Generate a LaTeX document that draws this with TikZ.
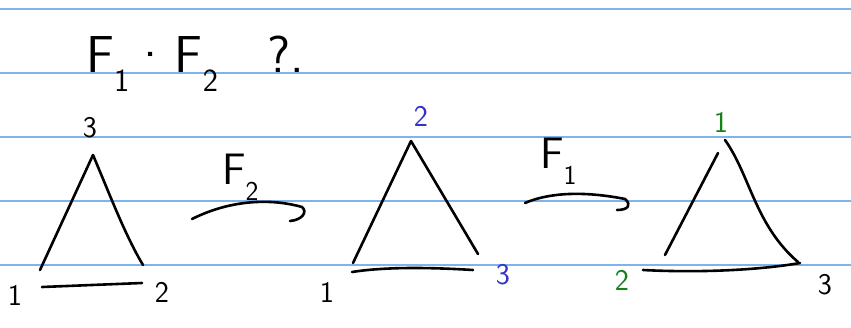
\documentclass[tikz,border=0pt]{standalone}
\usepackage{xcolor}
\usetikzlibrary{math}
\definecolor{rule}{RGB}{125,180,240}
\definecolor{vblue}{RGB}{50,50,205}
\definecolor{vgreen}{RGB}{20,130,20}

\newcommand{\lowidx}[1]{\raisebox{-0.38em}{\fontsize{0.62em}{0.7em}\selectfont #1}}

\tikzset{
ink/.style={line width=2.6pt, line cap=round, line join=round},
lbl/.style={font=\sffamily\fontsize{30}{34}\selectfont, inner sep=0pt},
fname/.style={font=\sffamily\fontsize{44}{48}\selectfont, inner sep=0pt},
}

\begin{document}
\begin{tikzpicture}[x=1pt,y=-1pt]

\tikzmath{
\W = 851;
\H = 327;
\dy = 64;%rule spacing
}
\useasboundingbox (0,0) rectangle (\W,\H);
\fill[white] (0,0) rectangle (\W,\H);

\foreach \i in {0,...,4}{
\draw[rule, line width=1.6pt] (0,9+\i*\dy) -- (\W,9+\i*\dy);
}

% title
\node[font=\sffamily\fontsize{52}{56}\selectfont, inner sep=0pt, anchor=base west] (title) at (86,72)
  {F\lowidx{1}\hspace{0.05em}·\hspace{0.1em}F\lowidx{2}\hspace{0.95em}?.};

% first triangle
\coordinate (a1) at (40,270);
\coordinate (a2) at (143,265);
\coordinate (a3) at (93,155);
\draw[ink] (a1) -- (a3) .. controls (110,195) and (125,235) .. (a2);
\draw[ink] (42,287) -- (142,283);
\node[lbl] (l13) at (90,128) {3};
\node[lbl] (l11) at (15,295) {1};
\node[lbl] (l12) at (162,292) {2};

% F2 arrow
\coordinate (s2) at (192,219);
\coordinate (e2) at (302,207);
\draw[ink] (s2) .. controls (230,200) and (270,198) .. (e2)
  .. controls (308,212) and (302,220) .. (290,221);
\node[fname, anchor=base west] (f2) at (222,184) {F\lowidx{2}};

% second triangle
\coordinate (b1) at (353,263);
\coordinate (b3) at (478,254);
\coordinate (b2) at (411,141);
\draw[ink] (b1) -- (b2) -- (b3);
\draw[ink] (352,272) .. controls (390,266) and (440,268) .. (473,270);
\node[lbl, vblue] (l22) at (421,116) {2};
\node[lbl] (l21) at (327,292) {1};
\node[lbl, vblue] (l23) at (503,275) {3};

% F1 arrow
\coordinate (s1) at (525,203);
\coordinate (e1) at (625,199);
\draw[ink] (s1) .. controls (555,190) and (595,193) .. (e1)
  .. controls (632,205) and (628,210) .. (617,210);
\node[fname, anchor=base west] (f1) at (540,168) {F\lowidx{1}};

% third triangle
\coordinate (c2) at (665,255);
\coordinate (c3) at (798,262);
\coordinate (c1) at (725,140);
\draw[ink] (c2) -- (718,153);
\draw[ink] (c1) .. controls (750,175) and (755,225) .. (c3);
\draw[ink] (643,270) .. controls (700,273) and (760,270) .. (800,263);
\node[lbl, vgreen] (l31) at (721,122) {1};
\node[lbl, vgreen] (l32) at (622,280) {2};
\node[lbl] (l33) at (825,285) {3};

\end{tikzpicture}
\end{document}
